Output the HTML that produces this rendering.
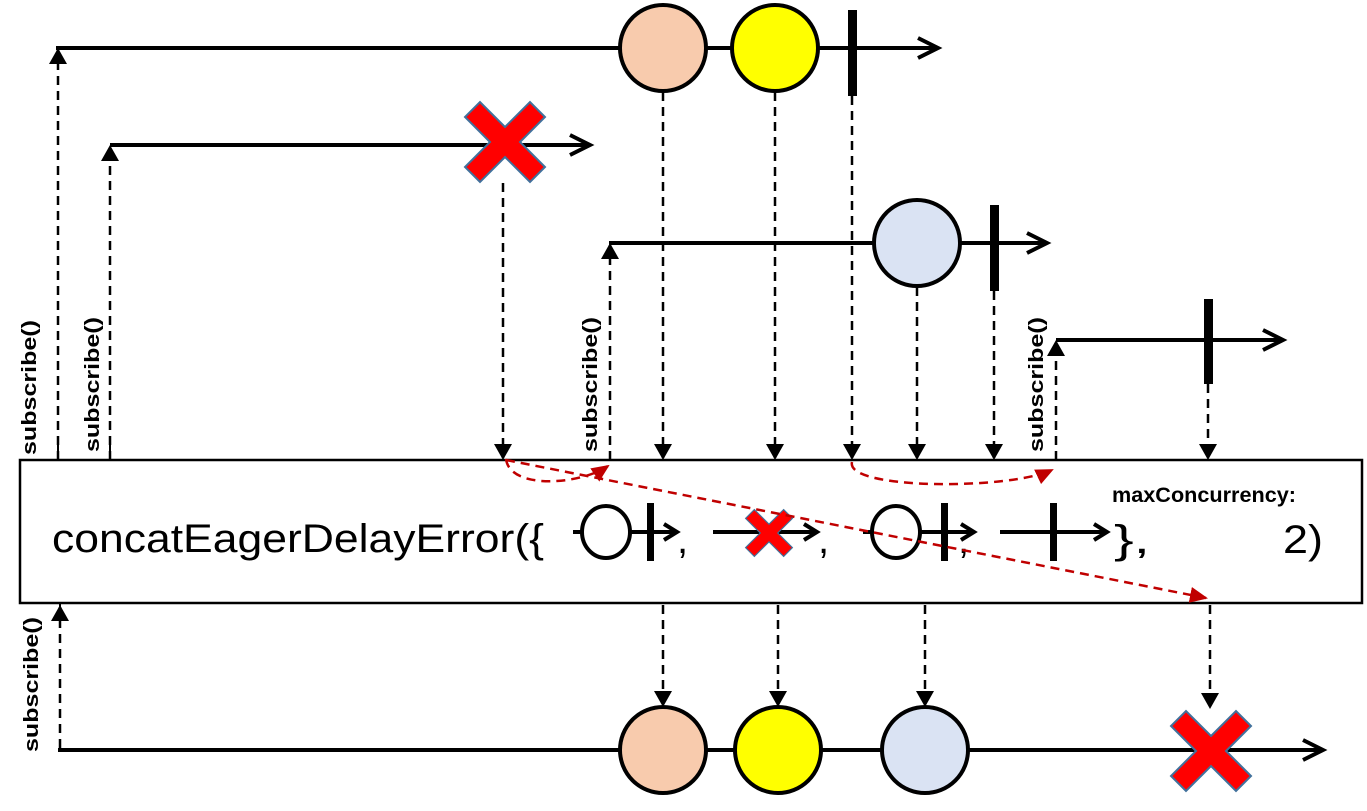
<!DOCTYPE html>
<html><head><meta charset="utf-8"><style>
html,body{margin:0;padding:0;background:#fff;}
svg{display:block;}
text{font-family:"Liberation Sans",sans-serif;}
</style></head><body>
<svg width="1367" height="811" viewBox="0 0 1367 811" xmlns="http://www.w3.org/2000/svg">
<defs>
<marker id="ahb" markerWidth="16" markerHeight="18" refX="14" refY="9" orient="auto" markerUnits="userSpaceOnUse"><path d="M0,0 L16,9 L0,18 Z" fill="#000"/></marker>
<marker id="ahr" markerWidth="18" markerHeight="16" refX="16" refY="8" orient="auto" markerUnits="userSpaceOnUse"><path d="M0,0 L18,8 L0,16 Z" fill="#c00000"/></marker>
<symbol id="x" viewBox="-41 -41 82 82" overflow="visible"><polygon points="0,-15 25,-40 40,-25 15,0 40,25 25,40 0,15 -25,40 -40,25 -15,0 -40,-25 -25,-40" fill="#ff0000" stroke="#41719c" stroke-width="2"/></symbol>
</defs>
<g stroke="#000" stroke-width="4" fill="none" stroke-linecap="butt">
<line x1="56" y1="48" x2="935" y2="48"/>
<polyline points="918,38 938,48 918,58"/>
<line x1="110" y1="145" x2="588" y2="145"/>
<polyline points="570,135 590,145 570,155"/>
<line x1="609" y1="243" x2="1045" y2="243"/>
<polyline points="1027,233 1047,243 1027,253"/>
<line x1="1056" y1="340" x2="1280" y2="340"/>
<polyline points="1263,330 1283,340 1263,350"/>
<line x1="58" y1="750" x2="1320" y2="750"/>
<polyline points="1303,740 1323,750 1303,760"/>
</g>
<rect x="848" y="10" width="9" height="86" fill="#000"/>
<rect x="990" y="205" width="9" height="86" fill="#000"/>
<rect x="1204" y="299" width="9" height="85" fill="#000"/>
<g stroke="#000" stroke-width="4">
<circle cx="663" cy="48" r="43" fill="#f8cbad"/>
<circle cx="775" cy="48" r="43" fill="#ffff00"/>
<circle cx="917" cy="243" r="43" fill="#dae3f3"/>
<circle cx="663" cy="750" r="43" fill="#f8cbad"/>
<circle cx="778" cy="750" r="43" fill="#ffff00"/>
<circle cx="925" cy="750" r="43" fill="#dae3f3"/>
</g>
<use href="#x" x="464" y="101" width="82" height="82"/>
<use href="#x" x="1170" y="710" width="82" height="82"/>
<g stroke="#000" stroke-width="2.5" stroke-dasharray="9,6" fill="none">
<line x1="58" y1="460" x2="58" y2="50" marker-end="url(#ahb)"/>
<line x1="110" y1="460" x2="110" y2="147" marker-end="url(#ahb)"/>
<line x1="610" y1="460" x2="610" y2="245" marker-end="url(#ahb)"/>
<line x1="1056" y1="460" x2="1056" y2="342" marker-end="url(#ahb)"/>
<line x1="60" y1="748" x2="60" y2="607" marker-end="url(#ahb)"/>
<line x1="503" y1="183" x2="503" y2="458" marker-end="url(#ahb)"/>
<line x1="663" y1="92" x2="663" y2="458" marker-end="url(#ahb)"/>
<line x1="775" y1="92" x2="775" y2="458" marker-end="url(#ahb)"/>
<line x1="852" y1="96" x2="852" y2="458" marker-end="url(#ahb)"/>
<line x1="917" y1="287" x2="917" y2="458" marker-end="url(#ahb)"/>
<line x1="994" y1="291" x2="994" y2="458" marker-end="url(#ahb)"/>
<line x1="1208" y1="384" x2="1208" y2="458" marker-end="url(#ahb)"/>
<line x1="663" y1="605" x2="663" y2="705" marker-end="url(#ahb)"/>
<line x1="778" y1="605" x2="778" y2="705" marker-end="url(#ahb)"/>
<line x1="925" y1="605" x2="925" y2="705" marker-end="url(#ahb)"/>
<line x1="1210" y1="605" x2="1210" y2="707" marker-end="url(#ahb)"/>
</g>
<rect x="20" y="460" width="1342" height="143" fill="#fff" stroke="#000" stroke-width="2.5"/>
<g stroke="#000" stroke-width="2" fill="none">
<line x1="58" y1="440" x2="58" y2="460"/>
<line x1="110" y1="440" x2="110" y2="460"/>
<line x1="60" y1="603" x2="60" y2="620"/>
</g>
<text x="52" y="552" font-size="40" textLength="492" lengthAdjust="spacingAndGlyphs">concatEagerDelayError({</text>
<g stroke="#000" stroke-width="4" fill="none">
<line x1="573" y1="532" x2="675" y2="532"/>
<polyline points="664,524 677,532 664,540"/>
<line x1="713" y1="532" x2="815" y2="532"/>
<polyline points="804,524 817,532 804,540"/>
<line x1="863" y1="532" x2="972" y2="532"/>
<polyline points="961,524 974,532 961,540"/>
<line x1="1000" y1="532" x2="1105" y2="532"/>
<polyline points="1094,524 1107,532 1094,540"/>
</g>
<g stroke="#000" stroke-width="4" fill="#fff">
<ellipse cx="606" cy="532" rx="24" ry="26"/>
<ellipse cx="896" cy="532" rx="24" ry="26"/>
</g>
<rect x="647" y="503" width="7" height="58" fill="#000"/>
<rect x="941" y="503" width="7" height="58" fill="#000"/>
<rect x="1050" y="503" width="7" height="58" fill="#000"/>
<use href="#x" x="745" y="505" width="48" height="56"/>
<text x="677" y="553" font-size="40">,</text>
<text x="818" y="553" font-size="40">,</text>
<text x="958" y="553" font-size="40">,</text>
<text x="1114" y="553" font-size="40" textLength="36" lengthAdjust="spacingAndGlyphs">},</text>
<text x="1283" y="553" font-size="40" textLength="40" lengthAdjust="spacingAndGlyphs">2)</text>
<text x="1112" y="502" font-size="21" font-weight="bold" textLength="184" lengthAdjust="spacingAndGlyphs">maxConcurrency:</text>
<g stroke="#c00000" stroke-width="2.5" stroke-dasharray="9,6" fill="none">
<path d="M506,459 C510,490 580,485 608,466" marker-end="url(#ahr)"/>
<path d="M852,462 C845,490 1010,490 1052,470" marker-end="url(#ahr)"/>
<line x1="506" y1="460" x2="1206" y2="598" marker-end="url(#ahr)"/>
</g>
<g font-size="20" font-weight="bold" fill="#000">
<text transform="translate(36,455) rotate(-90)" textLength="135" lengthAdjust="spacingAndGlyphs">subscribe()</text>
<text transform="translate(99,452) rotate(-90)" textLength="135" lengthAdjust="spacingAndGlyphs">subscribe()</text>
<text transform="translate(597,452) rotate(-90)" textLength="135" lengthAdjust="spacingAndGlyphs">subscribe()</text>
<text transform="translate(1043,452) rotate(-90)" textLength="135" lengthAdjust="spacingAndGlyphs">subscribe()</text>
<text transform="translate(38,752) rotate(-90)" textLength="135" lengthAdjust="spacingAndGlyphs">subscribe()</text>
</g>
</svg>
</body></html>
